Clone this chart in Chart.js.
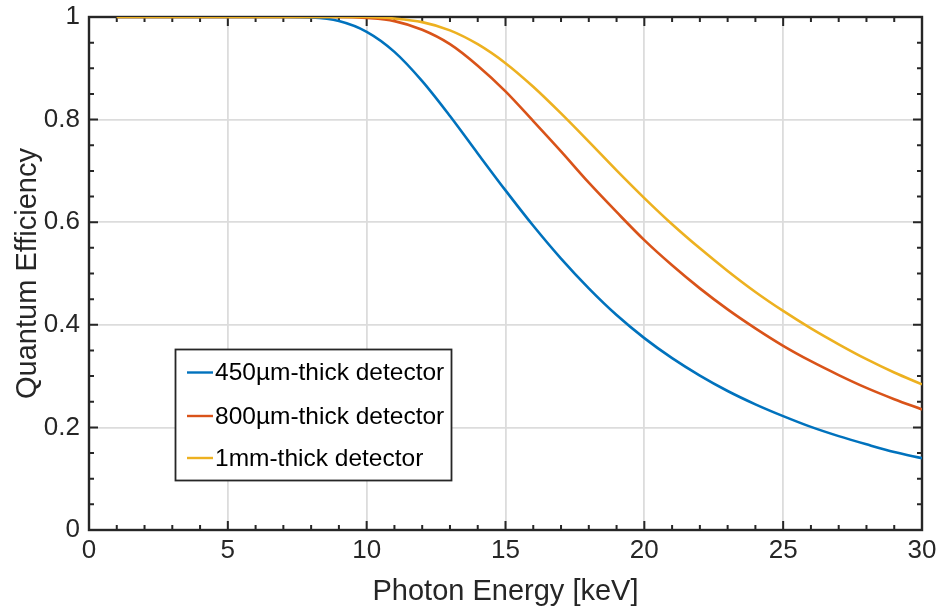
<!DOCTYPE html>
<html>
<head>
<meta charset="utf-8">
<script src="https://cdn.jsdelivr.net/npm/chart.js@4/dist/chart.umd.min.js"></script>
<style>
  html, body { margin: 0; padding: 0; background: #fff; }
  #wrap { position: relative; width: 940px; height: 607px; }
</style>
</head>
<body>
<div id="wrap"><canvas id="qe"></canvas></div>
<script>
// photon energy in keV
const energy = [1, 2, 3, 4, 5, 6, 7, 8, 9, 10, 11, 12, 13, 14, 15, 16, 17, 18, 19, 20,
  21, 22, 23, 24, 25, 26, 27, 28, 29, 30];

// quantum efficiency
const qe450 = [1, 1, 1, 1, 1, 1, 1, 0.999, 0.992, 0.971, 0.932, 0.875, 0.807, 0.734, 0.662,
  0.593, 0.529, 0.471, 0.419, 0.374, 0.335, 0.301, 0.271, 0.245, 0.222, 0.201, 0.183, 0.167, 0.152, 0.140];
const qe800 = [1, 1, 1, 1, 1, 1, 1, 1, 1, 0.998, 0.992, 0.975, 0.947, 0.905, 0.855,
  0.797, 0.738, 0.677, 0.620, 0.565, 0.516, 0.471, 0.430, 0.393, 0.359, 0.329, 0.302, 0.277, 0.255, 0.235];
const qe1mm = [1, 1, 1, 1, 1, 1, 1, 1, 1, 1, 0.997, 0.990, 0.974, 0.947, 0.910,
  0.864, 0.812, 0.757, 0.701, 0.647, 0.596, 0.549, 0.505, 0.464, 0.427, 0.393, 0.362, 0.333, 0.307, 0.284];

const seriesLabels = ['450\u00b5m-thick detector', '800\u00b5m-thick detector', '1mm-thick detector'];
const seriesColors = ['#0072BD', '#D95319', '#EDB120'];

const xTicks = [0, 5, 10, 15, 20, 25, 30];
const xTickLabels = ['0', '5', '10', '15', '20', '25', '30'];
const yTicks = [0, 0.2, 0.4, 0.6, 0.8, 1];
const yTickLabels = ['0', '0.2', '0.4', '0.6', '0.8', '1'];

const ink = '#262626';
const fontFamily = '"Liberation Sans", Arial, Helvetica, sans-serif';

// box round the axes with inward ticks on all four sides, like matlab
const boxPlugin = {
  id: 'box',
  beforeDatasetsDraw(chart) {
    const { ctx, chartArea: a, scales: { x, y } } = chart;
    ctx.save();
    ctx.strokeStyle = ink;
    ctx.lineWidth = 2;
    ctx.beginPath();
    for (let v = x.min; v <= x.max + 1e-9; v += 1) {
      const px = x.getPixelForValue(v);
      const len = v % 5 === 0 ? 9 : 5;
      ctx.moveTo(px, a.bottom); ctx.lineTo(px, a.bottom - len);
      ctx.moveTo(px, a.top); ctx.lineTo(px, a.top + len);
    }
    for (let i = 0; i <= 20; i++) {
      const py = y.getPixelForValue(i * 0.05);
      const len = i % 4 === 0 ? 9 : 5;
      ctx.moveTo(a.left, py); ctx.lineTo(a.left + len, py);
      ctx.moveTo(a.right, py); ctx.lineTo(a.right - len, py);
    }
    ctx.stroke();
    ctx.lineWidth = 2.4;
    ctx.strokeRect(a.left, a.top, a.right - a.left, a.bottom - a.top);
    ctx.restore();
  }
};

const legendBox = { left: 175.5, top: 349.5, width: 276, height: 131 };

const legendPlugin = {
  id: 'boxLegend',
  afterDatasetsDraw(chart) {
    const ctx = chart.ctx;
    const b = legendBox;
    ctx.save();
    ctx.fillStyle = '#fff';
    ctx.fillRect(b.left, b.top, b.width, b.height);
    ctx.strokeStyle = ink;
    ctx.lineWidth = 1.8;
    ctx.strokeRect(b.left, b.top, b.width, b.height);
    ctx.font = '24.5px ' + fontFamily;
    ctx.textBaseline = 'middle';
    ctx.textAlign = 'left';
    const rows = [372.5, 416, 458];
    chart.data.datasets.forEach((ds, i) => {
      const yy = rows[i];
      ctx.strokeStyle = ds.borderColor;
      ctx.lineWidth = 2.4;
      ctx.beginPath();
      ctx.moveTo(187, yy);
      ctx.lineTo(213, yy);
      ctx.stroke();
      ctx.fillStyle = '#000';
      ctx.fillText(ds.label, 215, yy + 1);
    });
    ctx.restore();
  }
};

const gridStyle = { color: '#dcdcdc', lineWidth: 1.8, drawTicks: false };

new Chart(document.getElementById('qe'), {
  type: 'line',
  data: {
    datasets: [qe450, qe800, qe1mm].map((vals, i) => ({
      label: seriesLabels[i],
      data: energy.map((e, k) => ({ x: e, y: vals[k] })),
      borderColor: seriesColors[i],
      backgroundColor: seriesColors[i],
      borderWidth: 2.6,
      pointRadius: 0,
      fill: false,
      cubicInterpolationMode: 'monotone',
      order: 3 - i
    }))
  },
  options: {
    responsive: true,
    maintainAspectRatio: false,
    animation: false,
    events: [],
    layout: { padding: { left: 0, top: 17, right: 18, bottom: 0 } },
    plugins: {
      legend: { display: false },
      tooltip: { enabled: false }
    },
    scales: {
      x: {
        type: 'linear',
        min: 0,
        max: 30,
        grid: gridStyle,
        border: { display: false },
        afterBuildTicks: (s) => { s.ticks = xTicks.map(v => ({ value: v })); },
        afterFit: (s) => { s.height = 77; s.paddingLeft = 0; s.paddingRight = 0; },
        ticks: {
          color: ink,
          padding: 8,
          maxRotation: 0,
          font: { family: fontFamily, size: 26, lineHeight: 1 },
          callback: (v, i) => xTickLabels[i]
        },
        title: {
          display: true,
          text: 'Photon Energy [keV]',
          color: ink,
          padding: { top: 0, bottom: 0.5 },
          font: { family: fontFamily, size: 29, lineHeight: 1 }
        }
      },
      y: {
        type: 'linear',
        min: 0,
        max: 1,
        grid: gridStyle,
        border: { display: false },
        afterBuildTicks: (s) => { s.ticks = yTicks.map(v => ({ value: v })); },
        afterFit: (s) => { s.width = 89; s.paddingTop = 0; s.paddingBottom = 0; },
        ticks: {
          color: ink,
          padding: 9,
          font: { family: fontFamily, size: 26, lineHeight: 1 },
          callback: (v, i) => yTickLabels[i]
        },
        title: {
          display: true,
          text: 'Quantum Efficiency',
          color: ink,
          padding: { top: 13, bottom: 0 },
          font: { family: fontFamily, size: 29, lineHeight: 1 }
        }
      }
    }
  },
  plugins: [boxPlugin, legendPlugin]
});
</script>
</body>
</html>
